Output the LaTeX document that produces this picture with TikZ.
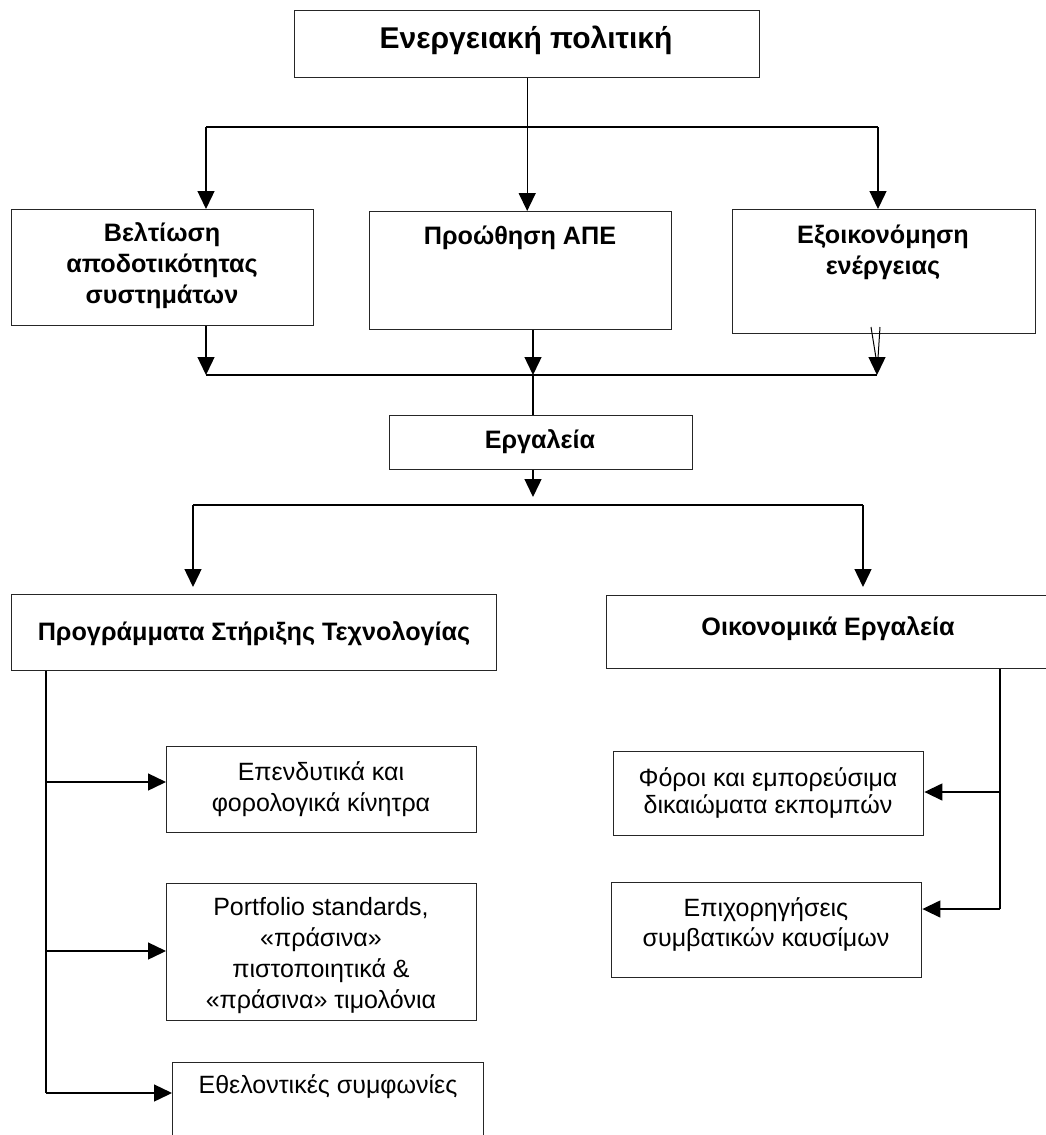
\documentclass[tikz,border=0pt]{standalone}
\usepackage{fontspec}
\setmainfont{Liberation Sans}
\usetikzlibrary{arrows.meta, positioning}

\tikzset{
  box/.style={draw=black!85, line width=1.4pt, anchor=north west, inner sep=0pt},
  hd/.style={inner sep=0pt, align=center, font=\bfseries\fontsize{25.2}{31}\selectfont},
  txt/.style={inner sep=0pt, align=center, font=\fontsize{25}{31}\selectfont},
  arr/.style={-{Triangle[length=18pt,width=17pt]}, line width=1.4pt},
  ln/.style={line width=1.4pt}
}

\begin{document}
\begin{tikzpicture}[x=1pt, y=-1pt]
  \useasboundingbox (0,0) rectangle (1046,1135);
  \fill[white] (0,0) rectangle (1046,1135);

  \node[box, minimum width=465, minimum height=67] (pol) at (294,10) {};
  \node[box, minimum width=302, minimum height=116] (belt) at (11,209) {};
  \node[box, minimum width=302, minimum height=118] (apes) at (369,211) {};
  \node[box, minimum width=303, minimum height=124] (exoik) at (732,209) {};
  \node[box, minimum width=303, minimum height=54] (erg) at (389,415) {};
  \node[box, minimum width=485, minimum height=76] (prog) at (11,594) {};
  \node[box, minimum width=444, minimum height=73] (oik) at (606,595) {};
  \node[box, minimum width=310, minimum height=86] (epend) at (166,746) {};
  \node[box, minimum width=310, minimum height=137] (portf) at (166,883) {};
  \node[box, minimum width=311, minimum height=90] (ethel) at (172,1062) {};
  \node[box, minimum width=310, minimum height=84] (fores) at (613,751) {};
  \node[box, minimum width=310, minimum height=95] (epix) at (611,882) {};

  \node[hd, font=\bfseries\fontsize{30}{36}\selectfont] (polt) at (526,40) {Ενεργειακή πολιτική};
  \node[hd] (beltt) at (162,266) {Βελτίωση\\αποδοτικότητας\\συστημάτων};
  \node[hd] (apest) at (520,238) {Προώθηση ΑΠΕ};
  \node[hd] (exoikt) at (883,252) {Εξοικονόμηση\\ενέργειας};
  \node[hd] (ergt) at (540,442) {Εργαλεία};
  \node[hd] (progt) at (254,634) {Προγράμματα Στήριξης Τεχνολογίας};
  \node[hd] (oikt) at (828,629) {Οικονομικά Εργαλεία};
  \node[txt] (ependt) at (321,789) {Επενδυτικά και\\φορολογικά κίνητρα};
  \node[txt] (portft) at (321,956) {Portfolio standards,\\«πράσινα»\\πιστοποιητικά \&\\«πράσινα» τιμολόνια};
  \node[txt] (ethelt) at (328,1087) {Εθελοντικές συμφωνίες};
  \node[txt, font=\fontsize{25}{27}\selectfont] (forest) at (768,793) {Φόροι και εμπορεύσιμα\\δικαιώματα εκπομπών};
  \node[txt, font=\fontsize{25}{30}\selectfont] (epixt) at (766,925) {Επιχορηγήσεις\\συμβατικών καυσίμων};

  \coordinate (t1) at (206,127);
  \coordinate (t3) at (878,127);
  \draw[ln] (t1) -- (t3);
  \draw[arr] (pol.south) -- (pol.south |- apes.north);
  \draw[arr] (t1) -- (t1 |- belt.north);
  \draw[arr] (t3) -- (t3 |- exoik.north);

  \coordinate (m1) at (206,375);
  \coordinate (m2) at (533,375);
  \coordinate (m3) at (877,375);
  \draw[ln] (m1) -- (m3);
  \draw[arr] (m1 |- belt.south) -- (m1);
  \draw[arr] (m2 |- apes.south) -- (m2);
  \draw[line width=1pt] (871,327) -- (876,358);
  \draw[line width=1pt] (880,327) -- (878,358);
  \draw[arr] (877,357) -- (m3);
  \draw[ln] (m2) -- (m2 |- erg.north);

  \coordinate (e0) at (533,497);
  \draw[arr] (m2 |- erg.south) -- (e0);
  \coordinate (b1) at (193,505);
  \coordinate (b2) at (863,505);
  \draw[ln] (b1) -- (b2);
  \draw[arr, shorten >=7pt] (b1) -- (b1 |- prog.north);
  \draw[arr, shorten >=8pt] (b2) -- (b2 |- oik.north);

  \coordinate (l1) at (46,782);
  \coordinate (l2) at (46,951);
  \coordinate (l3) at (46,1093);
  \draw[ln] (prog.south -| l1) -- (l3);
  \draw[arr] (l1) -- (l1 -| epend.west);
  \draw[arr] (l2) -- (l2 -| portf.west);
  \draw[arr] (l3) -- (l3 -| ethel.west);

  \coordinate (r1) at (1000,792);
  \coordinate (r2) at (1000,909);
  \draw[ln] (oik.south -| r1) -- (r2);
  \draw[arr] (r1) -- (r1 -| fores.east);
  \draw[arr] (r2) -- (r2 -| epix.east);
\end{tikzpicture}
\end{document}
